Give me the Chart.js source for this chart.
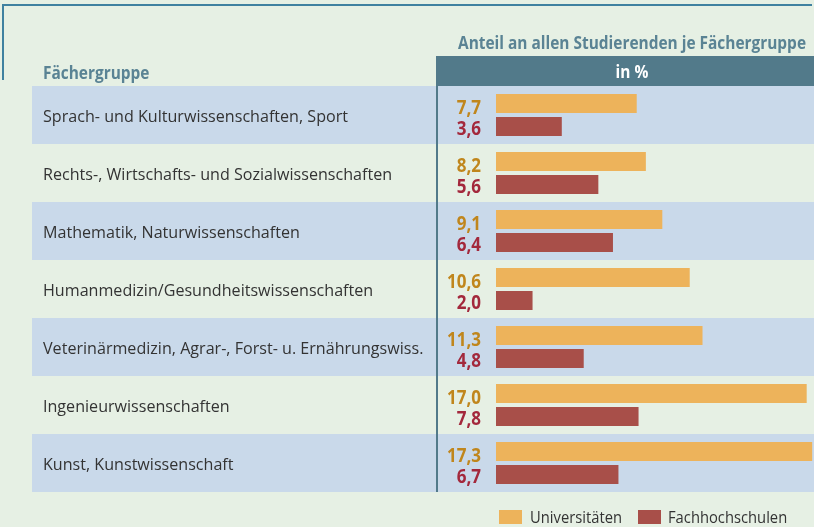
<!DOCTYPE html>
<html>
<head>
<meta charset="utf-8">
<script src="https://cdn.jsdelivr.net/npm/chart.js@4"></script>
<style>
html,body{margin:0;padding:0;background:#e6f0e4;}
#wrap{width:814px;height:527px;}
</style>
</head>
<body>
<div id="wrap"><canvas id="c" width="814" height="527"></canvas></div>
<script>
const categories = [
  "Sprach- und Kulturwissenschaften, Sport",
  "Rechts-, Wirtschafts- und Sozialwissenschaften",
  "Mathematik, Naturwissenschaften",
  "Humanmedizin/Gesundheitswissenschaften",
  "Veterinärmedizin, Agrar-, Forst- u. Ernährungswiss.",
  "Ingenieurwissenschaften",
  "Kunst, Kunstwissenschaft"
];
const universitaeten = [7.7, 8.2, 9.1, 10.6, 11.3, 17.0, 17.3];
const fachhochschulen = [3.6, 5.6, 6.4, 2.0, 4.8, 7.8, 6.7];
const seriesNames = ["Universitäten", "Fachhochschulen"];
const headerLeft = "Fächergruppe";
const headerRight = "Anteil an allen Studierenden je Fächergruppe";
const unitLabel = "in %";

const FAM = '"Open Sans", "Noto Sans", sans-serif';
const REG = '17px ' + FAM;
const BOLD = 'bold 18px ' + FAM;
const VAL = 'bold 19px ' + FAM;
const LEG = '16.5px ' + FAM;

const mctx = document.createElement('canvas').getContext('2d');
function measure(s, f){ mctx.font = f; return mctx.measureText(s).width; }
const sxReg = 305 / measure(categories[0], REG);
const sxBold = 348 / measure(headerRight, BOLD);
const sxVal = 34 / measure("17,3", VAL);
const sxLeg = 92 / measure(seriesNames[0], LEG);

function txt(ctx, s, x, y, font, color, align, sx){
  ctx.save();
  ctx.font = font; ctx.fillStyle = color; ctx.textAlign = align; ctx.textBaseline = 'alphabetic';
  ctx.translate(x, y); ctx.scale(sx, 1);
  ctx.fillText(s, 0, 0);
  ctx.restore();
}
const fmt = v => v.toFixed(1).replace('.', ',');

const COL_UNI = '#edb35b';
const COL_FH = '#a84f49';
const COL_ROW = '#c9d9ea';
const COL_HEAD = '#527a8a';
const COL_HTXT = '#5a8394';

const deco = {
  id: 'deco',
  beforeDatasetsDraw(chart){
    const ctx = chart.ctx, y = chart.scales.y, a = chart.chartArea;
    const half = (y.getPixelForValue(1) - y.getPixelForValue(0)) / 2;
    ctx.save();
    ctx.strokeStyle = '#3f81a0'; ctx.lineWidth = 2;
    ctx.beginPath(); ctx.moveTo(2, 5); ctx.lineTo(812, 5); ctx.stroke();
    ctx.beginPath(); ctx.moveTo(3, 4); ctx.lineTo(3, 80); ctx.stroke();
    categories.forEach((c, i) => {
      const cy = y.getPixelForValue(i);
      if (i % 2 === 0) { ctx.fillStyle = COL_ROW; ctx.fillRect(32, cy - half, 814 - 32, half * 2); }
    });
    ctx.fillStyle = COL_HEAD;
    ctx.fillRect(436, 56, 814 - 436, a.top - 56);
    ctx.fillRect(436, 56, 2, a.bottom - 56);
    ctx.restore();
  },
  afterDatasetsDraw(chart){
    const ctx = chart.ctx, y = chart.scales.y;
    txt(ctx, headerRight, 632, 49, BOLD, COL_HTXT, 'center', sxBold);
    txt(ctx, headerLeft, 43, 79, BOLD, COL_HTXT, 'left', sxBold);
    txt(ctx, unitLabel, 632, 78, BOLD, '#ffffff', 'center', sxBold);
    categories.forEach((c, i) => {
      const cy = y.getPixelForValue(i);
      txt(ctx, c, 43, cy + 6.5, REG, '#333333', 'left', sxReg);
    });
    const m0 = chart.getDatasetMeta(0), m1 = chart.getDatasetMeta(1);
    m0.data.forEach((b, i) => txt(ctx, fmt(universitaeten[i]), 481, b.y + 10, VAL, '#c0861c', 'right', sxVal));
    m1.data.forEach((b, i) => txt(ctx, fmt(fachhochschulen[i]), 481, b.y + 8.5, VAL, '#a3283c', 'right', sxVal));
    ctx.save();
    ctx.fillStyle = COL_UNI; ctx.fillRect(499, 510, 23, 14);
    ctx.fillStyle = COL_FH; ctx.fillRect(638, 510, 23, 14);
    ctx.restore();
    txt(ctx, seriesNames[0], 530, 523, LEG, '#333333', 'left', sxLeg);
    txt(ctx, seriesNames[1], 668, 523, LEG, '#333333', 'left', sxLeg);
  }
};

new Chart(document.getElementById('c'), {
  type: 'bar',
  data: {
    labels: categories,
    datasets: [
      { label: seriesNames[0], data: universitaeten, backgroundColor: COL_UNI, borderWidth: 0,
        categoryPercentage: 0.793, barPercentage: 0.826 },
      { label: seriesNames[1], data: fachhochschulen, backgroundColor: COL_FH, borderWidth: 0,
        categoryPercentage: 0.793, barPercentage: 0.826 }
    ]
  },
  options: {
    indexAxis: 'y',
    responsive: false,
    animation: false,
    devicePixelRatio: 1,
    layout: { padding: { left: 496, right: 0, top: 86, bottom: 35 } },
    scales: {
      x: { display: false, min: 0, max: 17.4 },
      y: { display: false }
    },
    plugins: { legend: { display: false }, tooltip: { enabled: false } }
  },
  plugins: [deco]
});
</script>
</body>
</html>
